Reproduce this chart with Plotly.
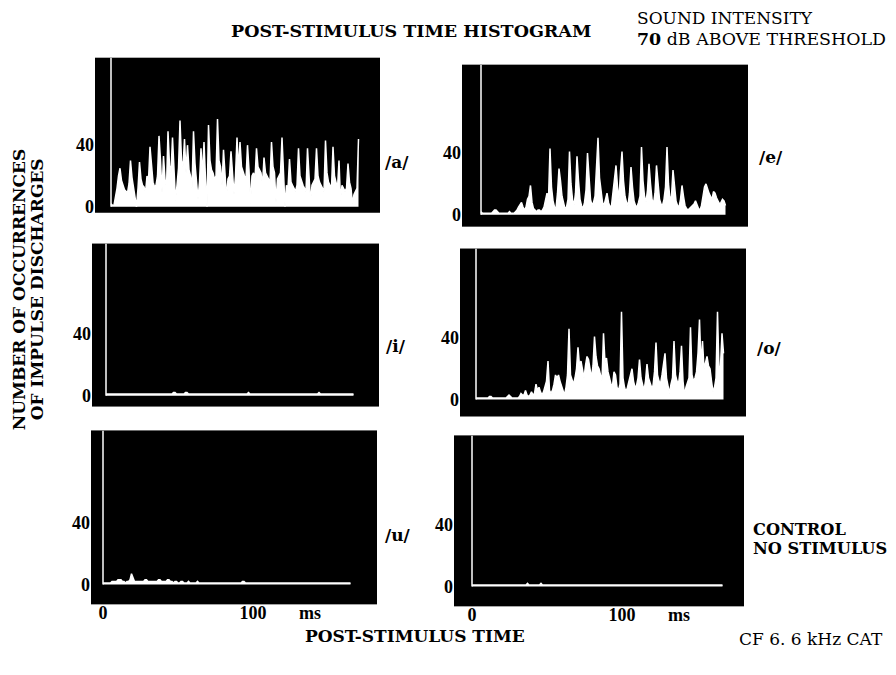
import plotly.graph_objects as go

# ---------------- data (counts per 1-ms bin) ----------------
A_COUNTS = [2, 1, 1, 6, 12, 20, 25, 17, 13, 11,
            10, 9, 15, 30, 19, 12, 7, 0, 12, 29,
            18, 14, 13, 9, 20, 17, 39, 24, 16, 13,
            14, 20, 46, 30, 9, 33, 18, 12, 49, 27,
            22, 45, 20, 4, 14, 25, 56, 30, 26, 44,
            22, 40, 24, 20, 12, 49, 28, 18, 5, 16,
            38, 20, 42, 18, 0, 53, 30, 24, 22, 18,
            20, 57, 30, 26, 14, 37, 22, 6, 18, 20,
            36, 22, 8, 20, 45, 24, 42, 26, 22, 20,
            18, 40, 24, 2, 20, 22, 18, 38, 26, 24,
            22, 14, 32, 22, 20, 18, 16, 42, 26, 22,
            3, 18, 20, 22, 45, 24, 0, 14, 12, 31,
            16, 14, 12, 10, 14, 38, 20, 16, 14, 12,
            10, 38, 18, 3, 14, 16, 18, 38, 20, 16,
            14, 12, 10, 43, 22, 16, 14, 12, 39, 20,
            16, 12, 30, 4, 14, 12, 10, 12, 28, 16,
            12, 2, 8, 10, 12, 44]

E_COUNTS = [2, 1, 1, 1, 1, 1, 1, 1, 2, 3,
            3, 2, 1, 1, 1, 1, 1, 1, 1, 2,
            1, 1, 1, 2, 3, 5, 7, 8, 5, 3,
            5, 10, 12, 19, 8, 4, 3, 2, 3, 3,
            2, 3, 5, 9, 14, 10, 43, 18, 9, 5,
            4, 14, 30, 22, 12, 8, 4, 5, 10, 41,
            20, 10, 6, 14, 38, 22, 10, 6, 4, 8,
            16, 40, 20, 10, 6, 8, 12, 30, 50, 24,
            14, 8, 6, 10, 14, 8, 5, 6, 14, 26,
            32, 18, 10, 28, 41, 22, 12, 8, 6, 14,
            31, 18, 9, 6, 5, 8, 12, 44, 22, 12,
            8, 16, 33, 20, 10, 7, 14, 32, 18, 10,
            7, 6, 10, 18, 44, 20, 10, 12, 29, 18,
            9, 6, 5, 10, 19, 12, 6, 4, 3, 4,
            5, 6, 7, 9, 6, 4, 3, 6, 12, 18,
            20, 16, 14, 12, 10, 15, 14, 11, 9, 7,
            8, 10, 9, 6]

I_COUNTS = [1, 1, 1, 1, 1, 1, 1, 1, 1, 1,
            1, 1, 1, 1, 1, 1, 1, 1, 1, 1,
            1, 1, 1, 1, 1, 1, 1, 1, 1, 1,
            1, 1, 1, 1, 1, 1, 1, 1, 1, 1,
            1, 1, 1, 1, 1, 2, 2, 1, 1, 1,
            1, 1, 1, 2, 2, 1, 1, 1, 1, 1,
            1, 1, 1, 1, 1, 1, 1, 1, 1, 1,
            1, 1, 1, 1, 1, 1, 1, 1, 1, 1,
            1, 1, 1, 1, 1, 1, 1, 1, 1, 1,
            1, 1, 1, 1, 1, 2, 1, 1, 1, 1,
            1, 1, 1, 1, 1, 1, 1, 1, 1, 1,
            1, 1, 1, 1, 1, 1, 1, 1, 1, 1,
            1, 1, 1, 1, 1, 1, 1, 1, 1, 1,
            1, 1, 1, 1, 1, 1, 1, 1, 1, 1,
            1, 1, 2, 1, 1, 1, 1, 1, 1, 1,
            1, 1, 1, 1, 1, 1, 1, 1, 1, 1,
            1, 1, 1, 1, 1, 1]

O_COUNTS = [1, 1, 1, 1, 1, 1, 1, 1, 1, 2,
            2, 1, 1, 1, 1, 1, 1, 1, 1, 1,
            1, 2, 3, 2, 1, 1, 1, 1, 1, 2,
            4, 3, 3, 6, 3, 2, 3, 5, 3, 4,
            10, 6, 8, 5, 3, 5, 8, 12, 25, 6,
            4, 6, 10, 16, 14, 16, 12, 8, 6, 3,
            8, 16, 46, 16, 12, 10, 14, 20, 34, 22,
            25, 18, 14, 22, 28, 26, 18, 14, 22, 41,
            28, 22, 20, 16, 12, 43, 24, 27, 18, 14,
            10, 9, 18, 16, 8, 6, 10, 57, 14, 8,
            5, 8, 12, 14, 20, 12, 8, 9, 14, 26,
            14, 10, 6, 12, 23, 14, 10, 8, 9, 18,
            37, 16, 12, 10, 16, 22, 30, 14, 8, 4,
            10, 14, 38, 16, 12, 10, 18, 35, 12, 3,
            8, 12, 14, 47, 16, 12, 14, 18, 30, 52,
            22, 38, 20, 24, 28, 22, 20, 12, 5, 8,
            14, 57, 19, 22, 43, 30]

U_COUNTS = [1, 1, 1, 1, 1, 1, 2, 2, 2, 2,
            3, 3, 3, 2, 2, 1, 2, 2, 3, 7,
            4, 2, 2, 2, 2, 2, 2, 2, 3, 3,
            2, 2, 2, 2, 2, 2, 2, 3, 3, 2,
            2, 2, 2, 3, 3, 2, 2, 1, 2, 2,
            1, 1, 2, 2, 1, 1, 1, 2, 1, 1,
            1, 1, 1, 2, 1, 1, 1, 1, 1, 1,
            1, 1, 1, 1, 1, 1, 1, 1, 1, 1,
            1, 1, 1, 1, 1, 1, 1, 1, 1, 1,
            1, 1, 1, 2, 2, 1, 1, 1, 1, 1,
            1, 1, 1, 1, 1, 1, 1, 1, 1, 1,
            1, 1, 1, 1, 1, 1, 1, 1, 1, 1,
            1, 1, 1, 1, 1, 1, 1, 1, 1, 1,
            1, 1, 1, 1, 1, 1, 1, 1, 1, 1,
            1, 1, 1, 1, 1, 1, 1, 1, 1, 1,
            1, 1, 1, 1, 1, 1, 1, 1, 1, 1,
            1, 1, 1, 1, 1, 1]

C_COUNTS = [1, 1, 1, 1, 1, 1, 1, 1, 1, 1,
            1, 1, 1, 1, 1, 1, 1, 1, 1, 1,
            1, 1, 1, 1, 1, 1, 1, 1, 1, 1,
            1, 1, 1, 1, 1, 1, 1, 2, 1, 1,
            1, 1, 1, 1, 1, 1, 2, 1, 1, 1,
            1, 1, 1, 1, 1, 1, 1, 1, 1, 1,
            1, 1, 1, 1, 1, 1, 1, 1, 1, 1,
            1, 1, 1, 1, 1, 1, 1, 1, 1, 1,
            1, 1, 1, 1, 1, 1, 1, 1, 1, 1,
            1, 1, 1, 1, 1, 1, 1, 1, 1, 1,
            1, 1, 1, 1, 1, 1, 1, 1, 1, 1,
            1, 1, 1, 1, 1, 1, 1, 1, 1, 1,
            1, 1, 1, 1, 1, 1, 1, 1, 1, 1,
            1, 1, 1, 1, 1, 1, 1, 1, 1, 1,
            1, 1, 1, 1, 1, 1, 1, 1, 1, 1,
            1, 1, 1, 1, 1, 1, 1, 1, 1, 1,
            1, 1, 1, 1, 1, 1, 1, 1]

PANEL_NAMES = ["/a/", "/e/", "/i/", "/o/", "/u/", ""]
SERIES = [A_COUNTS, E_COUNTS, I_COUNTS, O_COUNTS, U_COUNTS, C_COUNTS]
Y_TICKS = [0, 40]
Y_TICK_TEXT = ["0", "40"]
X_TICKS = [0, 100, 138]
X_TICK_TEXT = ["0", "100", "ms"]

# ---------------- layout geometry (page pixels) ----------------
PAGE_MARGIN = 8                    # default body margin of the html page
FIG_W, FIG_H = 888, 659
PX_PER_MS = 1.5
PX_PER_COUNT = 1.55
# left, top, right, bottom, x of t=0, y of count=0  (page px)
BOXES = [
    (95, 58, 380, 214, 111, 208),
    (462, 65, 748, 228, 481, 216),
    (92, 245, 379, 409, 106, 398),
    (460, 250, 746, 419, 476, 402),
    (91, 433, 377, 608, 103, 588),
    (454, 438, 744, 610, 472, 590),
]
LABEL_POS = [(397, 163), (771, 158), (396, 348), (769, 350), (398, 538)]

SERIF = "DejaVu Serif"
DIGITS = "Liberation Serif"


def px(x):
    return (x - PAGE_MARGIN) / FIG_W


def py(y):
    return 1 - (y - PAGE_MARGIN) / FIG_H


fig = go.Figure()
layout = dict(
    width=FIG_W, height=FIG_H, autosize=False,
    margin=dict(l=0, r=0, t=0, b=0),
    paper_bgcolor="white", plot_bgcolor="black",
    showlegend=False,
    font=dict(family=SERIF, color="black"),
)
shapes = []
annotations = []

for i, (vals, box) in enumerate(zip(SERIES, BOXES)):
    left, top, right, bottom, x0px, y0px = box
    n = "" if i == 0 else str(i + 1)
    xr = [(left - x0px) / PX_PER_MS, (right - x0px) / PX_PER_MS]
    yr = [-(bottom - y0px) / PX_PER_COUNT, (y0px - top) / PX_PER_COUNT]
    bottom_row = i >= 4
    layout["xaxis" + n] = dict(
        domain=[px(left), px(right)], range=xr, anchor="y" + n,
        showgrid=False, zeroline=False, showline=False, ticks="",
        showticklabels=bottom_row, ticklabelstandoff=-4,
        tickvals=X_TICKS, ticktext=["<b>%s</b>" % t for t in X_TICK_TEXT],
        tickfont=dict(family=DIGITS, size=18, color="black"),
        fixedrange=True,
    )
    layout["yaxis" + n] = dict(
        domain=[py(bottom), py(top)], range=yr, anchor="x" + n,
        showgrid=False, zeroline=False, showline=False, ticks="",
        tickvals=Y_TICKS, ticktext=["<b>%s</b>" % t for t in Y_TICK_TEXT],
        tickfont=dict(family=DIGITS, size=18, color="black"),
        fixedrange=True,
    )
    fig.add_trace(go.Scatter(
        x=list(range(len(vals))), y=vals, mode="lines",
        line=dict(color="white", width=1.5), fill="tozeroy", fillcolor="white",
        xaxis="x" + n, yaxis="y" + n, hoverinfo="skip",
    ))
    # white ordinate line at t = 0
    shapes.append(dict(type="line", xref="x" + n, yref="y" + n,
                       x0=0, x1=0, y0=0, y1=yr[1],
                       line=dict(color="white", width=1.5)))
    if PANEL_NAMES[i]:
        lx, ly = LABEL_POS[i]
        annotations.append(dict(
            text="<b>%s</b>" % PANEL_NAMES[i], xref="paper", yref="paper",
            x=px(lx), y=py(ly), xanchor="center", yanchor="middle", showarrow=False,
            font=dict(family=SERIF, size=17, color="black"),
        ))


def note(text, x, y, size, xanchor="left", angle=0):
    return dict(text=text, xref="paper", yref="paper", x=px(x), y=py(y),
                xanchor=xanchor, yanchor="middle", showarrow=False, textangle=angle,
                font=dict(family=SERIF, size=size, color="black"))


annotations += [
    note("<b>POST-STIMULUS TIME HISTOGRAM</b>", 411, 31, 17.5, "center"),
    note("SOUND INTENSITY", 635, 18, 17),
    note("<b>70</b> dB ABOVE THRESHOLD", 635, 39, 17.4),
    note("<b>NUMBER OF OCCURRENCES</b>", 19, 291, 17, "center", -90),
    note("<b>OF IMPULSE DISCHARGES</b>", 37, 291, 17, "center", -90),
    note("<b>CONTROL</b>", 751, 533, 16.2),
    note("<b>NO STIMULUS</b>", 751, 552, 16.2),
    note("<b>POST-STIMULUS TIME</b>", 415, 640, 17, "center"),
    note("CF 6. 6 kHz CAT", 811, 643, 17, "center"),
]

layout["shapes"] = shapes
layout["annotations"] = annotations
fig.update_layout(**layout)
fig.write_html("out.html")
